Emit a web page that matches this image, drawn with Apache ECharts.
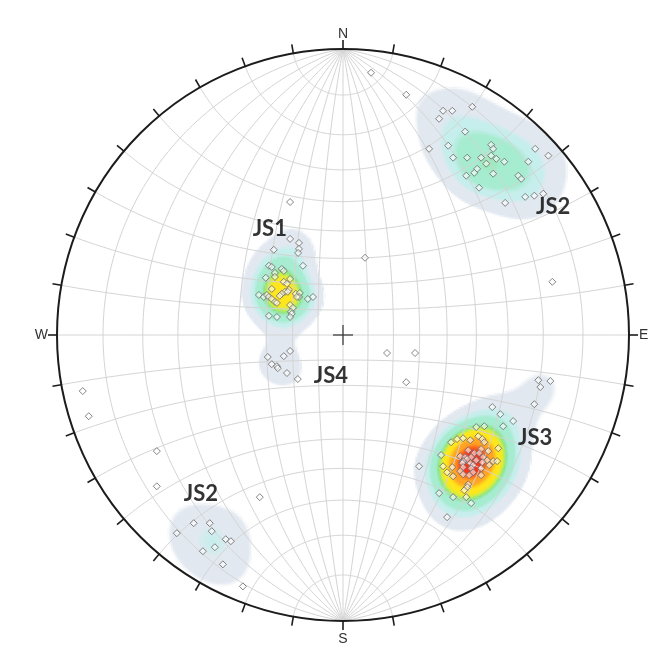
<!DOCTYPE html>
<html>
<head>
<meta charset="utf-8">
<script src="https://cdn.jsdelivr.net/npm/echarts@6/dist/echarts.min.js"></script>
<style>
  html, body { margin: 0; padding: 0; background: #ffffff; }
  #chart { width: 650px; height: 649px; }
</style>
</head>
<body>
<div id="chart"></div>
<script>
// Joint poles on a lower-hemisphere equal-angle (Wulff) net.
// Coordinates are projected positions in percent of the primitive radius: x = east, y = north.
const js1 = [
  [-18.5, 46.5], [-18.5, 33.6], [-15.4, 32.2], [-15.4, 30.1], [-15.7, 28.7], [-24.2, 29.8],
  [-14.0, 24.2], [-25.9, 24.2], [-24.9, 23.8], [-21.4, 23.1], [-20.7, 22.4], [-23.8, 21.7],
  [-27.0, 20.0], [-23.8, 20.3], [-20.7, 18.6], [-18.5, 19.6], [-19.6, 17.9], [-24.9, 16.1],
  [-18.9, 15.8], [-20.3, 15.1], [-19.3, 15.1], [-21.4, 14.4], [-22.1, 13.7], [-29.4, 14.0],
  [-27.7, 13.3], [-26.6, 14.0], [-25.9, 13.3], [-24.9, 12.6], [-23.8, 11.6], [-23.1, 11.2],
  [-16.5, 14.4], [-15.1, 14.7], [-15.4, 13.3], [-16.1, 13.3], [-12.3, 12.6], [-10.5, 13.3],
  [-18.5, 10.5], [-17.5, 9.5], [-18.2, 8.1], [-17.9, 7.4], [-18.5, 6.3], [-25.9, 6.7], [-23.1, 6.3]
];
const js2ne = [
  [35.0, 78.4], [38.2, 78.4], [45.2, 79.8], [33.6, 75.6], [42.7, 71.1], [30.1, 65.1],
  [36.8, 66.2], [38.5, 62.0], [43.4, 62.0], [48.3, 62.0], [51.8, 66.5], [52.5, 65.1],
  [51.8, 62.7], [53.6, 61.6], [56.4, 60.6], [50.1, 59.9], [46.9, 58.1], [45.9, 56.7],
  [43.1, 55.7], [52.5, 56.4], [61.3, 55.7], [62.3, 54.6], [47.6, 51.5], [64.8, 60.6],
  [67.2, 65.1], [71.8, 62.7], [63.7, 48.3], [66.9, 48.7], [70.0, 49.4], [56.7, 46.2]
];
const js2sw = [
  [-52.2, -65.8], [-46.6, -65.8], [-45.9, -68.6], [-58.1, -69.3], [-41.0, -71.4],
  [-39.2, -72.1], [-49.0, -75.6], [-44.8, -74.2], [-42.0, -80.2], [-35.0, -87.9]
];
const js3 = [
  [68.3, -15.8], [72.5, -16.1], [69.0, -18.2], [66.9, -24.2], [52.2, -25.2], [55.0, -27.7],
  [59.5, -30.1], [56.0, -31.9], [46.6, -32.2], [49.4, -31.9], [47.3, -35.4], [37.8, -37.5],
  [39.9, -36.4], [42.0, -36.1], [44.5, -36.8], [48.7, -36.4], [49.4, -37.5], [54.3, -39.6],
  [43.8, -40.3], [48.3, -39.9], [50.8, -40.6], [45.9, -41.3], [47.6, -41.3], [34.3, -42.0],
  [41.0, -42.4], [42.7, -42.7], [44.8, -42.7], [49.0, -42.7], [43.4, -43.4], [42.0, -44.1],
  [46.6, -43.8], [50.4, -43.8], [52.5, -44.1], [53.9, -44.1], [41.7, -44.8], [44.5, -44.8],
  [48.7, -44.5], [45.5, -45.5], [51.1, -45.5], [35.0, -45.9], [38.2, -46.2], [42.0, -46.2],
  [44.8, -46.6], [48.3, -46.6], [36.4, -48.0], [41.0, -47.6], [45.5, -48.0], [38.5, -49.4],
  [42.0, -48.7], [44.1, -49.0], [48.3, -49.0], [43.8, -52.2], [43.4, -53.2], [42.4, -54.3],
  [33.6, -55.3], [38.5, -56.7], [43.1, -56.7], [44.8, -58.8]
];
const js4 = [
  [-18.5, -5.6], [-26.3, -7.7], [-20.7, -7.4], [-24.9, -10.2], [-23.1, -10.9], [-22.8, -11.6],
  [-19.6, -13.3], [-15.8, -15.4]
];
const scattered = [
  [22.1, 84.0], [9.8, 91.7], [7.7, 27.0], [73.2, 18.6], [15.4, -6.3], [25.2, -6.3],
  [22.1, -16.5], [26.6, -45.9], [-91.0, -19.6], [-88.9, -28.4], [-65.1, -40.6],
  [-65.1, -52.9], [-29.1, -56.7], [36.4, -63.7]
];

// Set names and where each is written
const setNames = ['JS1', 'JS2', 'JS3', 'JS4', 'JS2'];
const setLabelAt = [[-25.6, 37.1], [73.5, 44.8], [67.2, -36.1], [-4.2, -14.4], [-49.7, -55.7]];

// Compass letters and azimuths
const compass = ['N', 'E', 'S', 'W'];
const compassAz = [0, 90, 180, 270];

// Density contour levels (Fisher kernel sum) and their fills
const levels = [3.2, 6.6, 9, 13.6, 15.2, 16.8, 22, 28];
const levelColors = ['#e2e8f0', '#c6eeec', '#a6ecd0', '#8ae38a', '#c8ef4c', '#ffe61c', '#ffa424', '#ff3318'];

const poles = js1.concat(js2ne, js2sw, js3, js4, scattered);

// ---- projection helpers ----
const D2R = Math.PI / 180;
function toVec(p) {
  const X = p[0] / 100, Y = p[1] / 100, r2 = X * X + Y * Y, d = 1 + r2;
  return [2 * X / d, 2 * Y / d, (1 - r2) / d];
}
// point at latitude (about the N-S axis) and longitude (from nadir towards east)
function netPoint(latDeg, lonDeg) {
  const la = latDeg * D2R, lo = lonDeg * D2R;
  const c = Math.cos(la);
  const x = c * Math.sin(lo), y = Math.sin(la), z = c * Math.cos(lo);
  return [100 * x / (1 + z), 100 * y / (1 + z)];
}
function hexRgb(h) {
  return [parseInt(h.slice(1, 3), 16), parseInt(h.slice(3, 5), 16), parseInt(h.slice(5, 7), 16)];
}
const levelRgb = levelColors.map(hexRgb);
const WHITE = [255, 255, 255];

// ---- density grid (Fisher kernel on the lower hemisphere) ----
const KAPPA = 90;
const STEP = 0.7;
const SOFT = 0.07;   // relative width of the blended band at each contour edge
const poleVecs = poles.map(toVec);
const cells = [];
for (let gy = -100 + STEP / 2; gy < 100; gy += STEP) {
  for (let gx = -100 + STEP / 2; gx < 100; gx += STEP) {
    if (gx * gx + gy * gy > 10000) continue;
    const v = toVec([gx, gy]);
    let dens = 0;
    for (const q of poleVecs) {
      const c = v[0] * q[0] + v[1] * q[1] + v[2] * q[2];
      const e = KAPPA * (c - 1);
      if (e > -14) dens += Math.exp(e);
    }
    if (dens < levels[0] * (1 - SOFT)) continue;
    // find the band and blend across the nearest contour edge
    let lev = 0;
    while (lev < levels.length && dens >= levels[lev]) lev++;
    const inner = lev - 1;                 // band index (-1 just below the first level)
    let col = inner >= 0 ? levelRgb[inner] : WHITE;
    let t = 0;
    if (lev < levels.length && dens > levels[lev] * (1 - SOFT)) {
      t = (dens - levels[lev] * (1 - SOFT)) / (levels[lev] * SOFT) * 0.5;
      const a = col, b = levelRgb[lev];
      col = [a[0] + (b[0] - a[0]) * t, a[1] + (b[1] - a[1]) * t, a[2] + (b[2] - a[2]) * t];
    } else if (inner >= 0 && dens < levels[inner] * (1 + SOFT)) {
      t = 0.5 + (dens - levels[inner]) / (levels[inner] * SOFT) * 0.5;
      const a = inner > 0 ? levelRgb[inner - 1] : WHITE, b = levelRgb[inner];
      col = [a[0] + (b[0] - a[0]) * t, a[1] + (b[1] - a[1]) * t, a[2] + (b[2] - a[2]) * t];
    }
    cells.push([gx, gy, 'rgb(' + col.map(Math.round).join(',') + ')']);
  }
}

const chart = echarts.init(document.getElementById('chart'), null, { renderer: 'canvas' });

const netSeries = {
  type: 'custom',
  coordinateSystem: 'cartesian2d',
  z: 2,
  silent: true,
  clip: false,
  data: [[0, 0]],
  renderItem: function (params, api) {
    const children = [];
    const gridStyle = { stroke: '#d4d4d4', lineWidth: 1, fill: null };
    const toPx = p => api.coord(p);
    // great circles (meridians) through N and S
    for (let lon = -80; lon <= 80; lon += 10) {
      const pts = [];
      for (let lat = -90; lat <= 90; lat += 1) pts.push(toPx(netPoint(lat, lon)));
      children.push({ type: 'polyline', shape: { points: pts }, style: gridStyle });
    }
    // small circles about the N-S axis
    for (let lat = -80; lat <= 80; lat += 10) {
      const pts = [];
      for (let lon = -90; lon <= 90; lon += 1) pts.push(toPx(netPoint(lat, lon)));
      children.push({ type: 'polyline', shape: { points: pts }, style: gridStyle });
    }
    const c = api.coord([0, 0]);
    const R = api.coord([100, 0])[0] - c[0];
    // primitive circle
    children.push({ type: 'circle', shape: { cx: c[0], cy: c[1], r: R }, style: { stroke: '#1c1c1c', lineWidth: 2, fill: null } });
    // azimuth ticks every 10 degrees
    for (let az = 0; az < 360; az += 10) {
      const s = Math.sin(az * D2R), k = -Math.cos(az * D2R);
      children.push({
        type: 'line',
        shape: { x1: c[0] + s * R, y1: c[1] + k * R, x2: c[0] + s * (R + 9), y2: c[1] + k * (R + 9) },
        style: { stroke: '#1c1c1c', lineWidth: 1.6 }
      });
    }
    // centre cross
    children.push({ type: 'line', shape: { x1: c[0] - 10, y1: c[1], x2: c[0] + 10, y2: c[1] }, style: { stroke: '#333', lineWidth: 1.2 } });
    children.push({ type: 'line', shape: { x1: c[0], y1: c[1] - 10, x2: c[0], y2: c[1] + 10 }, style: { stroke: '#333', lineWidth: 1.2 } });
    // compass letters
    const offs = [15, 10, 18, 9];
    const aligns = ['center', 'left', 'center', 'right'];
    compass.forEach((t, i) => {
      const az = compassAz[i] * D2R;
      const s = Math.sin(az), k = -Math.cos(az);
      children.push({
        type: 'text',
        style: {
          text: t, x: c[0] + s * (R + offs[i]), y: c[1] + k * (R + offs[i]),
          align: aligns[i], verticalAlign: 'middle',
          font: '14px "Liberation Sans", Arial, sans-serif', fill: '#333'
        }
      });
    });
    return { type: 'group', children: children };
  }
};

const densitySeries = {
  type: 'custom',
  coordinateSystem: 'cartesian2d',
  z: 1,
  silent: true,
  progressive: 0,
  animation: false,
  data: cells,
  renderItem: function (params, api) {
    const x = api.value(0), y = api.value(1);
    const p0 = api.coord([x - STEP / 2, y + STEP / 2]);
    const p1 = api.coord([x + STEP / 2, y - STEP / 2]);
    return {
      type: 'rect',
      shape: { x: p0[0], y: p0[1], width: p1[0] - p0[0] + 0.6, height: p1[1] - p0[1] + 0.6 },
      style: { fill: cells[params.dataIndex][2] }
    };
  }
};

const poleSeries = {
  type: 'scatter',
  z: 3,
  silent: true,
  symbol: 'diamond',
  symbolSize: 7,
  itemStyle: { color: 'rgba(255,255,255,0.7)', borderColor: '#666666', borderWidth: 1 },
  data: poles
};

const labelSeries = {
  type: 'scatter',
  z: 4,
  silent: true,
  symbolSize: 0,
  data: setLabelAt.map((p, i) => ({ value: p, name: setNames[i] })),
  label: {
    show: true, position: 'inside', formatter: '{b}',
    fontFamily: 'Lato, "Open Sans", sans-serif', fontWeight: 'bold', fontSize: 22, color: '#000'
  }
};

chart.setOption({
  animation: false,
  backgroundColor: '#ffffff',
  grid: { left: 57, top: 49, width: 572, height: 572, containLabel: false },
  xAxis: { type: 'value', min: -100, max: 100, show: false },
  yAxis: { type: 'value', min: -100, max: 100, show: false },
  series: [densitySeries, netSeries, poleSeries, labelSeries]
});
</script>
</body>
</html>
